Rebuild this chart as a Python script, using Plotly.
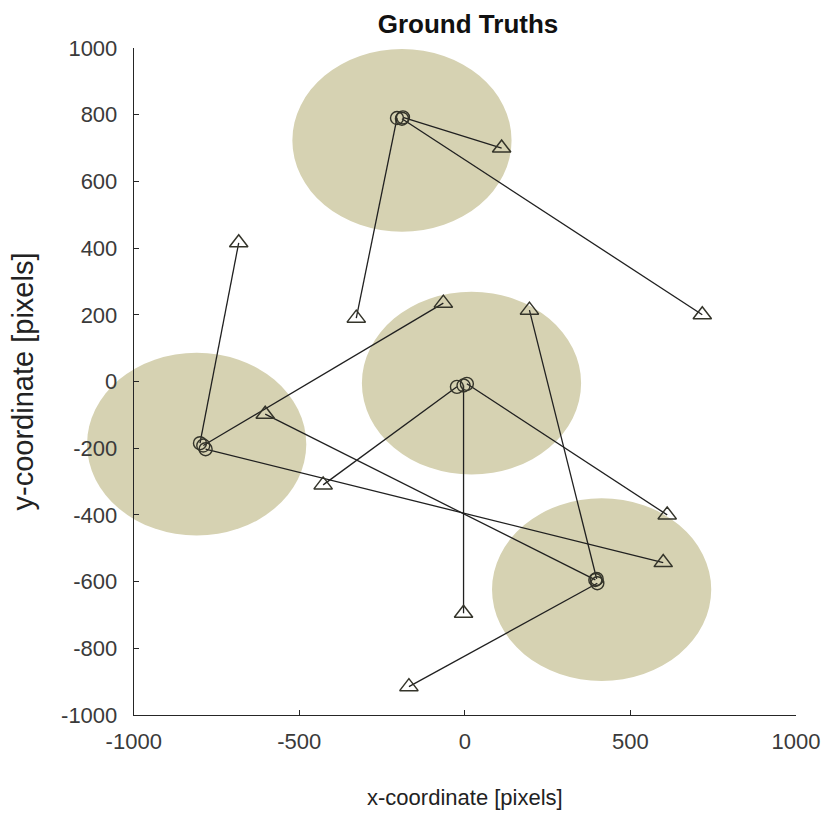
import plotly.graph_objects as go

# Shaded regions (ellipse centres and semi-axes, data units)
region_cx = [-190, -810, 20, 413]
region_cy = [723, -188, -5, -624]
region_rx = [331, 331, 331, 331]
region_ry = [274, 274, 274, 274]

# Estimated positions (circles) and their ground-truth targets (triangles)
est_x = [-205, -187, -190, -24, 6, -4, -800, -783, -790, 394, 398, 400]
est_y = [790, 792, 788, -16, -7, -12, -185, -203, -192, -595, -592, -605]
gt_x = [-328, 111, 717, -428, 611, -4, -683, 599, -65, -603, 195, -169]
gt_y = [190, 700, 200, -310, -400, -695, 416, -543, 235, -98, 214, -915]

x_ticks = [-1000, -500, 0, 500, 1000]
x_tick_text = ["-1000", "-500", "0", "500", "1000"]
y_ticks = [-1000, -800, -600, -400, -200, 0, 200, 400, 600, 800, 1000]
y_tick_text = ["-1000", "-800", "-600", "-400", "-200", "0",
               "200", "400", "600", "800", "1000"]

X_MIN, X_MAX = -1000, 1000
Y_MIN, Y_MAX = -1000, 1000

# Page geometry (pixels)
W, H = 832, 833
M_L, M_R, M_T, M_B = 40, 34, 48, 118
AXIS_LEFT_PX = 134            # where the visible x-axis starts

plot_w = W - M_L - M_R
axis_w = (W - M_R) - AXIS_LEFT_PX
dom_start = (AXIS_LEFT_PX - M_L) / plot_w
# The hidden drawing axis spans the whole plot area at the same scale,
# so the shaded regions may spill past the left axis line.
units_per_px = (X_MAX - X_MIN) / axis_w
draw_min = X_MIN - (AXIS_LEFT_PX - M_L) * units_per_px

FILL = "#d6d2b2"
INK = "#262626"
MARK = "#34342a"
SANS = "Liberation Sans, Arial, sans-serif"

fig = go.Figure()

# Segments joining each estimate to its target
seg_x, seg_y = [], []
for x0, y0, x1, y1 in zip(est_x, est_y, gt_x, gt_y):
    seg_x += [x0, x1, None]
    seg_y += [y0, y1, None]

fig.add_trace(go.Scatter(x=seg_x, y=seg_y, mode="lines",
                         line=dict(color="#202020", width=1.3),
                         hoverinfo="skip", showlegend=False))
fig.add_trace(go.Scatter(x=est_x, y=est_y, mode="markers",
                         marker=dict(symbol="circle-open", size=13, color=MARK,
                                     line=dict(color=MARK, width=1.4)),
                         showlegend=False))
fig.add_trace(go.Scatter(x=gt_x, y=gt_y, mode="markers",
                         marker=dict(symbol="triangle-up-open", size=16, color=MARK,
                                     line=dict(color=MARK, width=1.5)),
                         showlegend=False))
# carrier for the visible x-axis
fig.add_trace(go.Scatter(x=[None], y=[None], xaxis="x2", yaxis="y",
                         mode="markers", hoverinfo="skip", showlegend=False))

shapes = []
for cx, cy, rx, ry in zip(region_cx, region_cy, region_rx, region_ry):
    shapes.append(dict(type="circle", xref="x", yref="y",
                       x0=cx - rx, x1=cx + rx, y0=cy - ry, y1=cy + ry,
                       fillcolor=FILL, line=dict(width=0), layer="below"))

tick_font = dict(family=SANS, size=22, color="#3a3a3a")

fig.update_layout(
    width=W, height=H,
    margin=dict(l=M_L, r=M_R, t=M_T, b=M_B),
    paper_bgcolor="white", plot_bgcolor="rgba(0,0,0,0)",
    shapes=shapes,
    title=dict(text="<b>Ground Truths</b>", x=468 / W, xanchor="center",
               y=1 - 24 / H, yanchor="middle",
               font=dict(family=SANS, size=26, color="#111111")),
    xaxis=dict(range=[draw_min, X_MAX], domain=[0, 1], anchor="y",
               visible=False, showgrid=False, zeroline=False),
    xaxis2=dict(range=[X_MIN, X_MAX], domain=[dom_start, 1], anchor="y",
                tickvals=x_ticks, ticktext=x_tick_text,
                ticks="inside", ticklen=5, tickcolor=INK,
                showline=True, linecolor=INK, linewidth=1,
                showgrid=False, zeroline=False, tickfont=tick_font,
                ticklabelstandoff=7,
                title=dict(text="x-coordinate [pixels]",
                           font=dict(family=SANS, size=22, color="#222222"),
                           standoff=36)),
    yaxis=dict(range=[Y_MIN, Y_MAX], anchor="x2",
               tickvals=y_ticks, ticktext=y_tick_text,
               ticks="inside", ticklen=5, tickcolor=INK,
               showline=True, linecolor=INK, linewidth=1,
               showgrid=False, zeroline=False, tickfont=tick_font,
               ticklabelstandoff=11,
               title=dict(text="y-coordinate [pixels]",
                          font=dict(family=SANS, size=29, color="#222222"),
                          standoff=18)),
)

fig.write_html("out.html")
